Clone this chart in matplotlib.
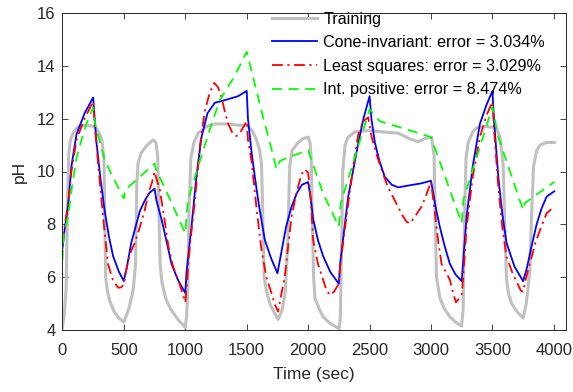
import numpy as np
import matplotlib
matplotlib.use('Agg')
import matplotlib.pyplot as plt

# training data (gray)
t_train = [0, 15, 30, 40, 50, 65, 90, 130, 200, 260, 295, 320, 338, 345, 352, 365, 385, 420, 460, 500,
           540, 575, 595, 605, 615, 640, 690, 740, 760, 775, 785, 795, 810, 840, 880, 940, 1000,
           1010, 1020, 1030, 1045, 1070, 1104, 1170, 1240, 1350, 1430, 1500, 1550, 1580, 1605, 1620, 1630,
           1642, 1660, 1688, 1720, 1756, 1790, 1815, 1835, 1850, 1870, 1919, 1960, 2000, 2015, 2025, 2035,
           2045, 2055, 2090, 2122, 2180, 2253, 2262, 2272, 2282, 2300, 2326, 2380, 2500, 2600, 2733, 2820,
           2896, 2950, 3005, 3025, 3035, 3045, 3073, 3110, 3154, 3200, 3249, 3262, 3272, 3285, 3303, 3340,
           3371, 3450, 3507, 3540, 3561, 3575, 3588, 3600, 3615, 3630, 3656, 3700, 3750, 3775, 3790, 3805,
           3820, 3835, 3860, 3887, 3941, 4004]
ph_train = [4.1, 4.6, 5.6, 8.5, 10.6, 11.2, 11.5, 11.7, 11.75, 11.7, 11.5, 11.2, 10.5, 8.0, 6.0, 5.5, 5.1, 4.7, 4.45, 4.3,
            4.8, 5.5, 6.5, 9.5, 10.3, 10.7, 11.0, 11.2, 11.1, 10.6, 8.5, 6.5, 5.8, 5.2, 4.8, 4.4, 4.1,
            4.5, 5.5, 8.5, 10.5, 11.1, 11.45, 11.7, 11.8, 11.8, 11.75, 11.75, 11.5, 11.2, 10.8, 10.3, 8.5,
            6.0, 5.5, 5.0, 4.7, 4.4, 4.8, 5.5, 7.5, 10.2, 10.8, 11.1, 11.25, 11.3, 11.1, 10.5, 8.0,
            6.0, 5.2, 4.8, 4.5, 4.25, 4.05, 4.5, 7.0, 10.0, 11.0, 11.3, 11.5, 11.55, 11.5, 11.45, 11.25,
            11.12, 11.25, 11.3, 10.6, 8.0, 6.0, 5.2, 4.8, 4.5, 4.3, 4.15, 4.8, 8.0, 10.5, 11.1, 11.5,
            11.65, 11.7, 11.67, 11.55, 11.3, 10.8, 10.2, 8.0, 5.9, 5.4, 5.0, 4.7, 4.45, 5.0, 5.6, 6.3,
            8.5, 10.2, 10.8, 11.0, 11.1, 11.1]

# cone-invariant model (blue)
t_cone = [0, 20, 46, 73, 114, 180, 250, 262, 277, 310, 344, 380, 412, 460, 500, 510, 521, 560, 589, 630, 670,
          710, 750, 765, 806, 850, 888, 940, 1000, 1010, 1050, 1090, 1132, 1180, 1240, 1322, 1430, 1500, 1510,
          1540, 1566, 1600, 1648, 1700, 1750, 1770, 1820, 1865, 1910, 1950, 2000, 2020, 2041, 2080, 2122,
          2180, 2250, 2260, 2326, 2408, 2450, 2500, 2515, 2543, 2580, 2624, 2680, 2733, 2842, 2920, 3000,
          3040, 3072, 3110, 3154, 3200, 3250, 3262, 3290, 3340, 3398, 3450, 3500, 3515, 3548, 3580, 3615,
          3680, 3750, 3778, 3820, 3860, 3900, 3941, 4004]
ph_cone = [7.1, 7.9, 8.7, 10.2, 11.4, 12.2, 12.8, 12.0, 11.1, 9.7, 8.5, 7.5, 6.8, 6.2, 5.85, 6.1, 6.3, 7.3, 7.8, 8.5, 8.9,
           9.2, 9.35, 8.9, 8.2, 7.3, 6.5, 5.9, 5.4, 6.2, 7.9, 9.8, 11.3, 12.2, 12.6, 12.7, 12.85, 13.05, 12.0,
           10.7, 9.8, 8.7, 7.4, 6.7, 6.15, 6.65, 7.9, 8.67, 9.2, 9.5, 9.6, 9.0, 8.2, 7.4, 6.8,
           6.2, 5.75, 6.5, 9.05, 11.07, 12.0, 12.85, 12.0, 11.1, 10.4, 9.8, 9.5, 9.4, 9.49, 9.55, 9.65,
           8.6, 7.9, 7.2, 6.5, 6.1, 5.85, 6.6, 8.3, 10.2, 11.8, 12.5, 13.05, 11.8, 9.8, 8.4, 7.3,
           6.4, 5.85, 6.3, 7.2, 8.0, 8.6, 9.05, 9.25]

# least squares model (red)
t_ls = [0, 20, 46, 73, 114, 180, 250, 262, 290, 330, 371, 410, 453, 480, 500, 520, 550, 589, 630, 670, 700,
        730, 750, 760, 793, 830, 861, 900, 942, 970, 1000, 1010, 1040, 1078, 1120, 1159, 1200, 1235, 1265,
        1294, 1320, 1349, 1385, 1417, 1450, 1475, 1500, 1510, 1539, 1580, 1620, 1660, 1702, 1730, 1756,
        1775, 1810, 1840, 1865, 1900, 1946, 1973, 2000, 2020, 2041, 2080, 2122, 2150, 2177, 2210, 2250,
        2262, 2326, 2370, 2408, 2450, 2489, 2517, 2560, 2598, 2650, 2706, 2760, 2800, 2828, 2870, 2923,
        2960, 3000, 3030, 3060, 3086, 3120, 3154, 3180, 3203, 3230, 3250, 3262, 3290, 3340, 3398, 3450,
        3500, 3515, 3548, 3580, 3615, 3660, 3700, 3730, 3750, 3770, 3805, 3850, 3887, 3941, 4004]
ph_ls = [7.3, 8.0, 8.8, 10.0, 11.2, 12.0, 12.65, 11.8, 10.3, 8.3, 6.5, 5.9, 5.6, 5.62, 5.75, 6.3, 6.9, 7.3, 7.9, 8.54, 9.2,
         9.6, 10.0, 9.8, 9.3, 8.2, 7.2, 6.4, 5.9, 5.5, 5.05, 5.6, 7.3, 8.9, 11.0, 12.3, 13.0, 13.35, 13.2,
         12.83, 12.3, 11.8, 11.45, 11.34, 11.5, 11.7, 11.9, 11.2, 10.4, 8.6, 7.03, 6.0, 5.39, 4.95, 4.7,
         5.2, 6.02, 7.3, 8.29, 9.1, 9.9, 10.08, 9.95, 9.0, 7.4, 6.5, 5.9, 5.5, 5.32, 5.45, 5.75,
         6.5, 8.79, 10.3, 11.4, 11.9, 12.05, 11.3, 10.6, 10.06, 9.4, 8.9, 8.4, 8.1, 8.04, 8.3, 8.67,
         9.1, 9.6, 8.5, 7.3, 6.5, 6.2, 5.9, 5.4, 5.05, 5.2, 5.35, 6.0, 7.9, 9.8, 11.3, 12.1,
         12.64, 11.5, 9.42, 7.9, 6.77, 6.2, 5.8, 5.5, 5.45, 5.9, 6.52, 7.3, 7.78, 8.42, 8.67]

# internally positive model (green)
t_ip = [0, 10, 33, 46, 80, 114, 155, 195, 250, 262, 300, 344, 420, 500, 510, 630, 750, 760, 870, 1000,
        1020, 1104, 1200, 1281, 1400, 1500, 1620, 1743, 1770, 1851, 2000, 2122, 2250, 2265, 2500, 2584,
        2800, 3000, 3250, 3263, 3500, 3548, 3750, 3763, 4004]
ph_ip = [6.65, 7.6, 8.05, 8.3, 9.5, 10.5, 11.2, 11.8, 12.42, 11.9, 11.2, 10.43, 9.7, 8.98, 9.3, 9.8, 10.3, 10.1, 9.0, 7.66,
         8.9, 10.18, 11.6, 12.7, 13.6, 14.53, 12.3, 10.1, 10.4, 10.56, 10.8, 9.17, 7.91, 8.8, 12.35, 11.9,
         11.6, 11.3, 8.05, 8.92, 12.45, 11.3, 8.54, 8.8, 9.61]

labels = ['Training',
          'Cone-invariant: error = 3.034%',
          'Least squares: error = 3.029%',
          'Int. positive: error = 8.474%']

plt.rcParams['font.family'] = ['Liberation Sans', 'DejaVu Sans']
plt.rcParams['xtick.direction'] = 'in'
plt.rcParams['ytick.direction'] = 'in'

fig = plt.figure(figsize=(5.73, 3.92), dpi=100)
ax = fig.add_axes([0.109, 0.158, 0.879, 0.809])

ax.plot(t_train, ph_train, color='#c0c0c0', lw=2.2, label=labels[0])
ax.plot(t_cone, ph_cone, color='#0000ff', lw=1.3, label=labels[1])
ax.plot(t_ls, ph_ls, color='#ff0000', lw=1.3, ls=(0, (6, 2.5, 1.2, 2.5)), label=labels[2])
ax.plot(t_ip, ph_ip, color='#00ff00', lw=1.3, ls=(0, (5.5, 3.7)), label=labels[3])

ax.set_xlim(0, 4100)
ax.set_ylim(4, 16)
ax.set_xticks(np.arange(0, 4001, 500))
ax.set_yticks(np.arange(4, 17, 2))
ax.tick_params(top=True, right=True, labelsize=12, colors='#262626', length=4, width=0.6)
ax.tick_params(axis='x', pad=9)
ax.tick_params(axis='y', pad=5)
for s in ax.spines.values():
    s.set_color('#262626')
    s.set_linewidth(0.7)
ax.set_xlabel('Time (sec)', fontsize=12.5, color='#262626', labelpad=7)
ax.set_ylabel('pH', fontsize=12.5, color='#262626', labelpad=7.5)

leg = ax.legend(loc='upper left', bbox_to_anchor=(0.4742, 0.9705), bbox_transform=fig.transFigure,
                frameon=False, fontsize=11.6, handlelength=2.8, handletextpad=0.4,
                labelspacing=0.53, borderpad=0, borderaxespad=0)

fig.savefig('out.png', dpi=100)
